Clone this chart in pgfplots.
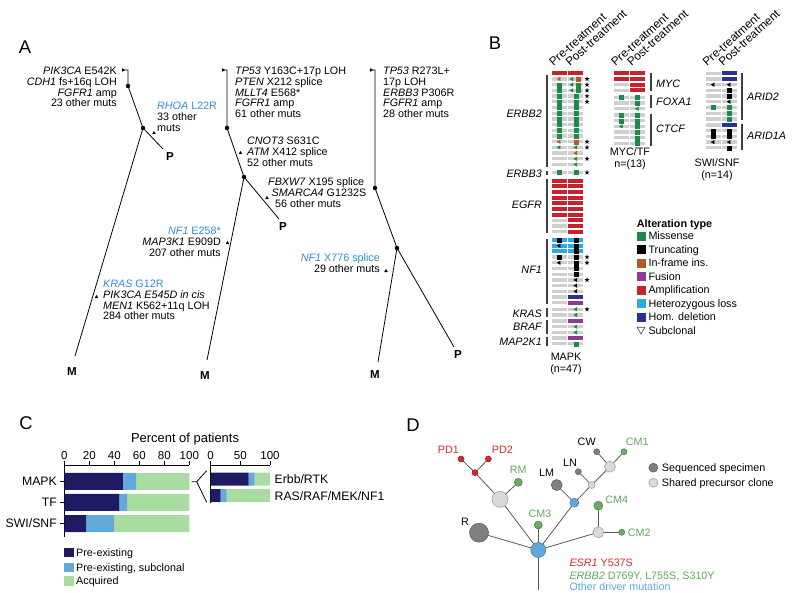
\documentclass[border=0pt]{standalone}
\usepackage{pgfplots}
\pgfplotsset{compat=1.18}
\usepackage{fontspec}
\setmainfont{Liberation Sans}
\definecolor{cgray}{HTML}{CFCFCF}
\definecolor{cred}{HTML}{C8232C}
\definecolor{clblue}{HTML}{2AABE2}
\definecolor{cdblue}{HTML}{2B3190}
\definecolor{cpurple}{HTML}{8E3A96}
\definecolor{cgreen}{HTML}{1B8A4B}
\definecolor{corange}{HTML}{B4582C}
\definecolor{tblue}{HTML}{2C8FD6}
\definecolor{navy}{HTML}{1E1B62}
\definecolor{subc}{HTML}{62AADB}
\definecolor{acq}{HTML}{A8DCA0}
\definecolor{dgray}{HTML}{7F7F7F}
\definecolor{lgray}{HTML}{D9D9D9}
\definecolor{dred}{HTML}{D42A2F}
\definecolor{dgreen}{HTML}{6BAA6A}
\definecolor{tgreen}{HTML}{5FAA5C}
\definecolor{dblue}{HTML}{5DA9DC}
\newcommand{\ft}{\fontsize{10.8}{11}\selectfont}
\newcommand{\fl}{\fontsize{10.8}{12}\selectfont}
\newcommand{\fh}{\fontsize{11.8}{13}\selectfont}
\newcommand{\fc}{\fontsize{12.3}{14}\selectfont}
\newcommand{\fcn}{\fontsize{11.6}{13}\selectfont}
\newcommand{\fp}{\fontsize{18.5}{20}\selectfont}
\newcommand{\fb}{\fontsize{11.6}{13}\selectfont\bfseries}
\pgfdeclareplotmark{cellg}{\pgfpathrectangle{\pgfqpoint{-7.5bp}{-1.65bp}}{\pgfqpoint{15bp}{3.3bp}}\pgfusepathqfill}
\pgfdeclareplotmark{cellc}{\pgfpathrectangle{\pgfqpoint{-7.5bp}{-2bp}}{\pgfqpoint{15bp}{4bp}}\pgfusepathqfill}
\pgfdeclareplotmark{fstar}{%
 \pgfpathmoveto{\pgfpointpolar{90}{\pgfplotmarksize}}%
 \pgfpathlineto{\pgfpointpolar{126}{.4\pgfplotmarksize}}%
 \pgfpathlineto{\pgfpointpolar{162}{\pgfplotmarksize}}%
 \pgfpathlineto{\pgfpointpolar{198}{.4\pgfplotmarksize}}%
 \pgfpathlineto{\pgfpointpolar{234}{\pgfplotmarksize}}%
 \pgfpathlineto{\pgfpointpolar{270}{.4\pgfplotmarksize}}%
 \pgfpathlineto{\pgfpointpolar{306}{\pgfplotmarksize}}%
 \pgfpathlineto{\pgfpointpolar{342}{.4\pgfplotmarksize}}%
 \pgfpathlineto{\pgfpointpolar{18}{\pgfplotmarksize}}%
 \pgfpathlineto{\pgfpointpolar{54}{.4\pgfplotmarksize}}%
 \pgfpathclose\pgfusepathqfill}
\newcommand{\dedge}[4]{\addplot[black!65, line width=0.8bp] coordinates {(#1,#2) (#3,#4)};}
\newcommand{\dnode}[4]{\addplot[only marks, mark=*, mark size=#3bp, mark options={fill=#4, draw=#4!70!black, line width=0.5bp}] coordinates {(#1,#2)};}
\newcommand{\cell}[3]{\addplot[only marks, mark=#1, color=#2] coordinates {#3};}
\newcommand{\sq}[2]{\addplot[only marks, mark=square*, mark size=2bp, color=#1] coordinates {#2};}
\newcommand{\tri}[2]{\addplot[only marks, mark=triangle*, mark size=2bp, color=#1, mark options={rotate=90}] coordinates {#2};}
\begin{document}
\begin{tikzpicture}
\begin{axis}[name=bg, scale only axis, width=796bp, height=593bp, xmin=0, xmax=796, ymin=0, ymax=593, y dir=reverse, hide axis, clip=false]
\addplot[draw=none] coordinates {(0,0) (796,593)};
% ---------------- Panel A ----------------
\node[font=\fp, inner sep=0pt] at (axis cs:25,47) {A};
\addplot[black, line width=0.8bp] coordinates {(122,70) (128,70) (128,86) (143,128) (163,149)};
\addplot[black, line width=0.8bp] coordinates {(143,128) (75,356)};
\addplot[black, line width=0.8bp] coordinates {(222,70) (227,70) (227,128) (244,177) (279,219)};
\addplot[black, line width=0.8bp] coordinates {(244,177) (207,360)};
\addplot[black, line width=0.8bp] coordinates {(370,70) (375,70) (375,188) (397,248) (454,347)};
\addplot[black, line width=0.8bp] coordinates {(397,248) (378,362)};
\addplot[only marks, mark=*, mark size=2bp, black] coordinates {(128,86) (143,128) (227,128) (244,177) (375,188) (397,248)};
\addplot[only marks, mark=triangle*, mark size=1.6bp, black, mark options={rotate=-90}] coordinates {(123,70) (223,70) (371,70)};
\addplot[only marks, mark=triangle*, mark size=1.6bp, black] coordinates {(154,133) (96.5,297) (240.5,153) (267,198) (227.5,243) (386,271)};
\node[font=\fb, inner sep=0pt] at (axis cs:170,157) {P};
\node[font=\fb, inner sep=0pt] at (axis cs:72,372) {M};
\node[font=\fb, inner sep=0pt] at (axis cs:283,227) {P};
\node[font=\fb, inner sep=0pt] at (axis cs:205,376) {M};
\node[font=\fb, inner sep=0pt] at (axis cs:458,355) {P};
\node[font=\fb, inner sep=0pt] at (axis cs:375,375) {M};
\node[anchor=north east, align=right, font=\ft, inner sep=0pt] at (axis cs:117,66.4) {\textit{PIK3CA} E542K\\\textit{CDH1} fs+16q LOH\\\textit{FGFR1} amp\\23 other muts};
\node[anchor=north west, align=left, font=\ft, inner sep=0pt] at (axis cs:157,101.4) {\textcolor{tblue}{\textit{RHOA} L22R}\\33 other\\muts};
\node[anchor=north west, align=left, font=\ft, inner sep=0pt] at (axis cs:235,66.4) {\textit{TP53} Y163C+17p LOH\\\textit{PTEN} X212 splice\\\textit{MLLT4} E568*\\\textit{FGFR1} amp\\61 other muts};
\node[anchor=north west, align=left, font=\ft, inner sep=0pt] at (axis cs:247,136.4) {\textit{CNOT3} S631C\\\textit{ATM} X412 splice\\52 other muts};
\node[anchor=base west, font=\ft, inner sep=0pt] at (axis cs:268,185.8) {\textit{FBXW7} X195 splice};
\node[anchor=base west, font=\ft, inner sep=0pt] at (axis cs:271.5,196.8) {\textit{SMARCA4} G1232S};
\node[anchor=base west, font=\ft, inner sep=0pt] at (axis cs:275,207.8) {56 other muts};
\node[anchor=north east, align=right, font=\ft, inner sep=0pt] at (axis cs:221,226.4) {\textcolor{tblue}{\textit{NF1} E258*}\\\textit{MAP3K1} E909D\\207 other muts};
\node[anchor=north west, align=left, font=\ft, inner sep=0pt] at (axis cs:103,279.4) {\textcolor{tblue}{\textit{KRAS} G12R}\\\textit{PIK3CA E545D in cis}\\\textit{MEN1} K562+11q LOH\\284 other muts};
\node[anchor=north west, align=left, font=\ft, inner sep=0pt] at (axis cs:383,66.4) {\textit{TP53} R273L+\\17p LOH\\\textit{ERBB3} P306R\\\textit{FGFR1} amp\\28 other muts};
\node[anchor=north east, align=right, font=\ft, inner sep=0pt] at (axis cs:380,253.4) {\textcolor{tblue}{\textit{NF1} X776 splice}\\29 other muts};
% ---------------- Panel B ----------------
\node[font=\fp, inner sep=0pt] at (axis cs:495,43) {B};
\foreach \xx/\tt in {553.5/Pre-treatment,570/Post-treatment,615.5/Pre-treatment,631.5/Post-treatment,707/Pre-treatment,723/Post-treatment}{
 \edef\temp{\noexpand\node[rotate=42, anchor=base west, font=\noexpand\fh, inner sep=0pt] at (axis cs:\xx,67) {\tt};}\temp
}
% MAPK pre column
\cell{cellg}{cgray}{(559.2,79.0)(559.2,84.7)(559.2,90.4)(559.2,96.1)(559.2,101.8)(559.2,107.5)(559.2,113.2)(559.2,118.9)(559.2,124.6)(559.2,130.3)(559.2,136.0)(559.2,141.7)(559.2,147.4)(559.2,153.1)(559.2,158.8)(559.2,164.5)(559.2,172.5)(559.2,220.4)(559.2,226.1)(559.2,231.8)(559.2,257.1)(559.2,262.8)(559.2,268.5)(559.2,274.2)(559.2,279.9)(559.2,285.6)(559.2,291.3)(559.2,297.0)(559.2,302.7)(559.2,309.3)(559.2,315.0)(559.2,321.0)(559.2,326.7)(559.2,332.4)(559.2,338.1)(559.2,343.8)}
\cell{cellc}{cred}{(559.2,73.3)(559.2,180.5)(559.2,186.2)(559.2,191.9)(559.2,197.6)(559.2,203.3)(559.2,209.0)(559.2,214.7)}
\cell{cellc}{clblue}{(559.2,240.0)(559.2,245.7)(559.2,251.4)}
% MAPK post column
\cell{cellg}{cgray}{(575.8,79.0)(575.8,84.7)(575.8,90.4)(575.8,96.1)(575.8,101.8)(575.8,107.5)(575.8,113.2)(575.8,118.9)(575.8,124.6)(575.8,130.3)(575.8,136.0)(575.8,141.7)(575.8,147.4)(575.8,153.1)(575.8,158.8)(575.8,164.5)(575.8,172.5)(575.8,257.1)(575.8,262.8)(575.8,268.5)(575.8,274.2)(575.8,279.9)(575.8,285.6)(575.8,291.3)(575.8,309.3)(575.8,315.0)(575.8,326.7)(575.8,332.4)(575.8,343.8)}
\cell{cellc}{cred}{(575.8,73.3)(575.8,180.5)(575.8,186.2)(575.8,191.9)(575.8,197.6)(575.8,203.3)(575.8,209.0)(575.8,214.7)(575.8,220.4)(575.8,226.1)(575.8,231.8)}
\cell{cellc}{clblue}{(575.8,240.0)(575.8,245.7)(575.8,251.4)}
\cell{cellc}{cdblue}{(575.8,297.0)}
\cell{cellc}{cpurple}{(575.8,302.7)(575.8,321.0)(575.8,338.1)}
% MAPK markers
\sq{cgreen}{(559.2,84.7)(559.2,90.4)(559.2,96.1)(559.2,101.8)(559.2,107.5)(559.2,113.2)(559.2,118.9)(559.2,124.6)(559.2,130.3)(559.2,136.0)(559.2,172.5)}
\tri{cgreen}{(559.2,147.4)}
\tri{corange}{(559.2,79.0)(559.2,141.7)}
\sq{black}{(559.2,240.0)(559.2,257.1)}
\tri{black}{(559.2,245.7)(559.2,262.8)}
\sq{cgreen}{(575.8,96.1)(575.8,101.8)(575.8,107.5)(575.8,113.2)(575.8,118.9)(575.8,124.6)(575.8,130.3)(575.8,136.0)(575.8,172.5)(575.8,343.8)(577.8,84.7)(577.8,90.4)}
\tri{cgreen}{(572,79.0)(572,84.7)(572,90.4)(575.8,147.4)(575.8,158.8)(575.8,164.5)(575.8,309.3)(575.8,315.0)(575.8,326.7)(575.8,332.4)}
\sq{corange}{(577.8,79.0)(575.8,141.7)}
\tri{corange}{(575.8,153.1)}
\sq{black}{(575.8,240.0)(575.8,245.7)(575.8,251.4)(575.8,257.1)(575.8,262.8)(575.8,268.5)(575.8,274.2)}
\tri{black}{(575.8,279.9)(575.8,285.6)(575.8,291.3)}
\addplot[only marks, mark=fstar, mark size=2.6bp, black] coordinates {(587,79.0)(587,84.7)(587,90.4)(587,96.1)(587,101.8)(587,141.7)(587,147.4)(587,158.8)(587,172.5)(587,257.1)(587,262.8)(587,279.9)(587,309.3)};
% MAPK gene bars and labels
\addplot[black!75, line width=1.3bp] coordinates {(547,75) (547,166.5)};
\addplot[black!75, line width=1.3bp] coordinates {(547,171) (547,175)};
\addplot[black!75, line width=1.3bp] coordinates {(547,179) (547,233)};
\addplot[black!75, line width=1.3bp] coordinates {(547,238.5) (547,304)};
\addplot[black!75, line width=1.3bp] coordinates {(547,308) (547,316.5)};
\addplot[black!75, line width=1.3bp] coordinates {(547,319.5) (547,334)};
\addplot[black!75, line width=1.3bp] coordinates {(547,336.5) (547,345.5)};
\foreach \yy/\gg in {113.3/ERBB2,173.3/ERBB3,205/EGFR,270/NF1,313.3/KRAS,327/BRAF,341.7/MAP2K1}{
 \edef\temp{\noexpand\node[anchor=base east, font=\noexpand\fl\noexpand\itshape, inner sep=0pt] at (axis cs:542,\yy+3.9) {\gg};}\temp
}
\node[font=\fl, align=center, inner sep=0pt, anchor=north] at (axis cs:566,353) {MAPK\\(n=47)};
% MYC/TF
\cell{cellg}{cgray}{(621.5,84.7)(621.5,90.4)(621.5,97.3)(621.5,103.0)(621.5,108.7)(621.5,115.0)(621.5,120.7)(621.5,126.4)(621.5,132.1)(621.5,137.8)(621.5,143.5)}
\cell{cellc}{cred}{(621.5,73.3)(621.5,79.0)}
\cell{cellg}{cgray}{(637.5,97.3)(637.5,103.0)(637.5,108.7)(637.5,115.0)(637.5,120.7)(637.5,126.4)(637.5,132.1)(637.5,137.8)(637.5,143.5)}
\cell{cellc}{cred}{(637.5,73.3)(637.5,79.0)(637.5,84.7)(637.5,90.4)}
\sq{cgreen}{(621.5,97.3)(621.5,115.0)(621.5,120.7)}
\tri{cgreen}{(621.5,126.4)}
\sq{cgreen}{(637.5,97.3)(637.5,103.0)(637.5,115.0)(637.5,120.7)(637.5,126.4)(637.5,132.1)(637.5,137.8)(637.5,143.5)}
\tri{cgreen}{(637.5,108.7)}
\addplot[black!75, line width=1.3bp] coordinates {(651,73) (651,91)};
\addplot[black!75, line width=1.3bp] coordinates {(651,95.5) (651,108)};
\addplot[black!75, line width=1.3bp] coordinates {(651,114) (651,145.5)};
\node[anchor=base west, font=\fl\itshape, inner sep=0pt] at (axis cs:656,83.3+3.9) {MYC};
\node[anchor=base west, font=\fl\itshape, inner sep=0pt] at (axis cs:656,101.7+3.9) {FOXA1};
\node[anchor=base west, font=\fl\itshape, inner sep=0pt] at (axis cs:656,128.3+3.9) {CTCF};
\node[font=\fl, align=center, inner sep=0pt, anchor=north] at (axis cs:630,148) {MYC/TF\\n=(13)};
% SWI/SNF
\cell{cellg}{cgray}{(713.2,73.3)(713.2,79.0)(713.2,84.7)(713.2,90.4)(713.2,96.1)(713.2,101.8)(713.2,107.5)(713.2,113.2)(713.2,118.9)(713.2,125.0)(713.2,130.7)(713.2,136.4)(713.2,142.1)(713.2,147.8)}
\cell{cellg}{cgray}{(729.2,84.7)(729.2,90.4)(729.2,96.1)(729.2,101.8)(729.2,107.5)(729.2,113.2)(729.2,118.9)(729.2,130.7)(729.2,136.4)(729.2,142.1)(729.2,147.8)}
\cell{cellc}{cdblue}{(729.2,73.3)(729.2,79.0)(729.2,125.0)}
\tri{black}{(713.2,84.7)(713.2,142.1)(729.2,84.7)(729.2,101.8)(729.2,142.1)}
\sq{cgreen}{(713.2,107.5)(729.2,107.5)(729.2,113.2)(729.2,118.9)}
\sq{black}{(713.2,130.7)(713.2,136.4)(729.2,90.4)(729.2,96.1)(729.2,130.7)(729.2,136.4)(729.2,147.8)}
\addplot[black!75, line width=1.3bp] coordinates {(742,73) (742,120)};
\addplot[black!75, line width=1.3bp] coordinates {(742,123.5) (742,150)};
\node[anchor=base west, font=\fl\itshape, inner sep=0pt] at (axis cs:747,97+3.9) {ARID2};
\node[anchor=base west, font=\fl\itshape, inner sep=0pt] at (axis cs:747,136+3.9) {ARID1A};
\node[font=\fl, align=center, inner sep=0pt, anchor=north] at (axis cs:717,159) {SWI/SNF\\(n=14)};
% legend B
\node[anchor=base west, font=\fl\bfseries, inner sep=0pt] at (axis cs:636.7,223.3+3.9) {Alteration type};
\addplot[only marks, mark=square*, mark size=4bp, color=cgreen] coordinates {(641,236)};
\addplot[only marks, mark=square*, mark size=4bp, color=black] coordinates {(641,249.5)};
\addplot[only marks, mark=square*, mark size=4bp, color=corange] coordinates {(641,263)};
\addplot[only marks, mark=square*, mark size=4bp, color=cpurple] coordinates {(641,276.5)};
\addplot[only marks, mark=square*, mark size=4bp, color=cred] coordinates {(641,290)};
\addplot[only marks, mark=square*, mark size=4bp, color=clblue] coordinates {(641,303.5)};
\addplot[only marks, mark=square*, mark size=4bp, color=cdblue] coordinates {(641,317)};
\addplot[only marks, mark=triangle, mark size=4.5bp, color=black!70, mark options={rotate=180, line width=0.6bp}] coordinates {(641,329.5)};
\foreach \yy/\tt in {236/Missense,249.5/Truncating,263/In-frame ins.,276.5/Fusion,290/Amplification,303.5/Heterozygous loss,317/Hom. deletion,330.5/Subclonal}{
 \edef\temp{\noexpand\node[anchor=base west, font=\noexpand\fl, inner sep=0pt] at (axis cs:648.3,\yy+3.9) {\tt};}\temp
}
% ---------------- Panel C (labels around the bars) ----------------
\node[font=\fp, inner sep=0pt] at (axis cs:26,423) {C};
\node[font=\fontsize{13}{15}\selectfont, inner sep=0pt] at (axis cs:185,439) {Percent of patients};
\addplot[black, line width=0.8bp] coordinates {(191.7,481.7) (196.7,481.7) (206.7,470.7)};
\addplot[black, line width=0.8bp] coordinates {(196.7,481.7) (206.7,502.3)};
\addplot[only marks, mark=square*, mark size=4.2bp, color=navy] coordinates {(68.5,552.3)};
\addplot[only marks, mark=square*, mark size=4.2bp, color=subc] coordinates {(68.5,567.3)};
\addplot[only marks, mark=square*, mark size=4.2bp, color=acq] coordinates {(68.5,580.7)};
\node[anchor=base west, font=\fl, inner sep=0pt] at (axis cs:76,552.3+3.9) {Pre-existing};
\node[anchor=base west, font=\fl, inner sep=0pt] at (axis cs:76,567.3+3.9) {Pre-existing, subclonal};
\node[anchor=base west, font=\fl, inner sep=0pt] at (axis cs:76,580.7+3.9) {Acquired};
% ---------------- Panel D ----------------
\node[font=\fp, inner sep=0pt] at (axis cs:413,425) {D};
\dedge{538.3}{590}{538.3}{550}
\dedge{538.3}{550}{479}{532.7}
\dedge{538.3}{550}{500}{499.3}
\dedge{538.3}{550}{538.3}{525}
\dedge{538.3}{550}{574.3}{502.7}
\dedge{538.3}{550}{598.3}{532.3}
\dedge{500}{499.3}{518.3}{482.3}
\dedge{500}{499.3}{475}{472.7}
\dedge{475}{472.7}{461}{459}
\dedge{475}{472.7}{488.3}{459}
\dedge{574.3}{502.7}{556.7}{485}
\dedge{574.3}{502.7}{591.7}{485}
\dedge{591.7}{485}{578.3}{471.7}
\dedge{591.7}{485}{610}{466.7}
\dedge{610}{466.7}{596.7}{451.7}
\dedge{610}{466.7}{624}{451.7}
\dedge{598.3}{532.3}{598.3}{505.7}
\dedge{598.3}{532.3}{621.7}{532.3}
\dnode{538.3}{550}{7.5}{dblue}
\dnode{479}{532.7}{9.5}{dgray}
\dnode{500}{499.3}{8}{lgray}
\dnode{518.3}{482.3}{4}{dgreen}
\dnode{475}{472.7}{3}{dred}
\dnode{461}{459}{3}{dred}
\dnode{488.3}{459}{3}{dred}
\dnode{538.3}{525}{4}{dgreen}
\dnode{574.3}{502.7}{4.5}{dblue}
\dnode{556.7}{485}{5.5}{dgray}
\dnode{591.7}{485}{3.5}{lgray}
\dnode{578.3}{471.7}{3}{dgray}
\dnode{610}{466.7}{5.5}{lgray}
\dnode{596.7}{451.7}{3}{dgray}
\dnode{624}{451.7}{3}{dgreen}
\dnode{598.3}{532.3}{5.5}{lgray}
\dnode{598.3}{505.7}{4.5}{dgreen}
\dnode{621.7}{532.3}{3}{dgreen}
\dnode{653.3}{467.7}{4.5}{dgray}
\dnode{653.3}{482.7}{4.5}{lgray}
\node[font=\fl, text=dred, inner sep=0pt] at (axis cs:448.3,449.3) {PD1};
\node[font=\fl, text=dred, inner sep=0pt] at (axis cs:502.3,449.3) {PD2};
\node[font=\fl, text=tgreen, inner sep=0pt] at (axis cs:518.3,470) {RM};
\node[font=\fl, inner sep=0pt] at (axis cs:465,521.7) {R};
\node[font=\fl, text=tgreen, inner sep=0pt] at (axis cs:540,513.7) {CM3};
\node[font=\fl, inner sep=0pt] at (axis cs:546.7,472.7) {LM};
\node[font=\fl, inner sep=0pt] at (axis cs:570,462.7) {LN};
\node[font=\fl, inner sep=0pt] at (axis cs:586.7,441.7) {CW};
\node[font=\fl, text=tgreen, inner sep=0pt] at (axis cs:637.3,441.7) {CM1};
\node[font=\fl, text=tgreen, inner sep=0pt] at (axis cs:616.7,500) {CM4};
\node[font=\fl, text=tgreen, inner sep=0pt] at (axis cs:639.3,532.7) {CM2};
\node[anchor=base west, font=\fl, inner sep=0pt] at (axis cs:661.7,467.7+3.9) {Sequenced specimen};
\node[anchor=base west, font=\fl, inner sep=0pt] at (axis cs:661.7,482.7+3.9) {Shared precursor clone};
\node[anchor=base west, font=\fl, text=dred, inner sep=0pt] at (axis cs:569.3,562.7+3.9) {\textit{ESR1} Y537S};
\node[anchor=base west, font=\fl, text=tgreen, inner sep=0pt] at (axis cs:569.3,575.3+3.9) {\textit{ERBB2} D769Y, L755S, S310Y};
\node[anchor=base west, font=\fl, text=dblue, inner sep=0pt] at (axis cs:569.3,586.7+3.9) {Other driver mutation};
\end{axis}
% ---------------- Panel C bars ----------------
\begin{axis}[at={(64.3bp,56bp)}, anchor=south west, scale only axis, width=125bp, height=72bp,
 xmin=0, xmax=100, ymin=-0.64, ymax=2.78, xbar stacked, bar width=17bp,
 axis x line*=top, axis y line*=left, axis line style={line width=0.9bp},
 xtick={0,20,40,60,80,100}, ytick={0,1,2}, yticklabels={SWI/SNF,TF,MAPK},
 tick align=outside, major tick length=4bp, tick style={black, line width=0.9bp},
 xticklabel style={font=\fcn, inner sep=1.5bp}, yticklabel style={font=\fc},
 /pgf/number format/assume math mode=true]
\addplot[fill=navy, draw=none] coordinates {(46.8,2) (44.0,1) (17.4,0)};
\addplot[fill=subc, draw=none] coordinates {(10.6,2) (6.2,1) (22.4,0)};
\addplot[fill=acq, draw=none] coordinates {(42.6,2) (49.8,1) (60.2,0)};
\end{axis}
\begin{axis}[at={(210.7bp,90bp)}, anchor=south west, scale only axis, width=59.3bp, height=38bp,
 xmin=0, xmax=100, ymin=-0.44, ymax=1.86, xbar stacked, bar width=13bp,
 axis x line*=top, axis y line*=left, axis line style={line width=0.9bp},
 xtick={0,50,100}, ytick=\empty,
 tick align=outside, major tick length=4bp, tick style={black, line width=0.9bp},
 xticklabel style={font=\fcn, inner sep=1.5bp}, clip=false,
 /pgf/number format/assume math mode=true]
\addplot[fill=navy, draw=none] coordinates {(64.0,1) (16.9,0)};
\addplot[fill=subc, draw=none] coordinates {(10.2,1) (10.1,0)};
\addplot[fill=acq, draw=none] coordinates {(25.8,1) (73.0,0)};
\node[anchor=west, font=\fc, inner sep=0pt] at (axis cs:100,1) [xshift=4.5bp] {Erbb/RTK};
\node[anchor=west, font=\fc, inner sep=0pt] at (axis cs:100,0) [xshift=4.5bp] {RAS/RAF/MEK/NF1};
\end{axis}
\end{tikzpicture}
\end{document}
